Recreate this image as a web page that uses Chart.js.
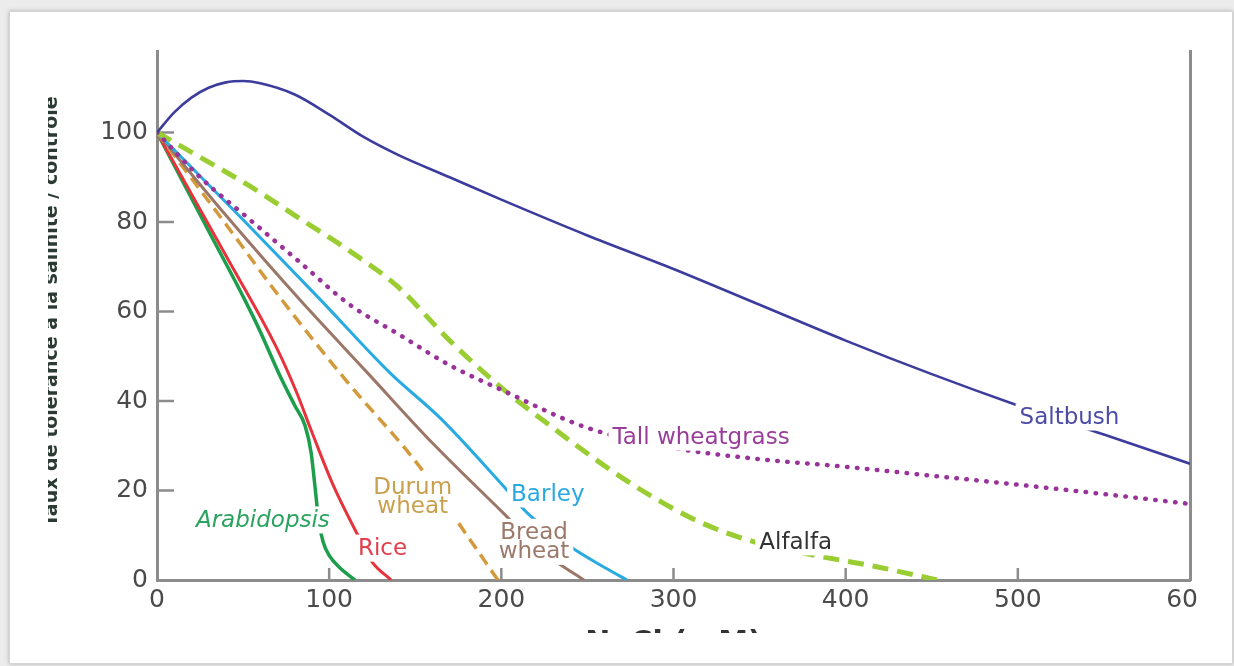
<!DOCTYPE html>
<html>
<head>
<meta charset="utf-8">
<script src="https://cdn.jsdelivr.net/npm/chart.js@4.4.1/dist/chart.umd.min.js"></script>
<style>
  html, body { margin: 0; padding: 0; }
  body { width: 1234px; height: 666px; background: #ececec; position: relative; overflow: hidden; }
  #card { position: absolute; left: 9px; top: 11px; width: 1222px; height: 651px; background: #fff;
          border: 1px solid #d4d4d4; box-shadow: 0 0 4px rgba(0,0,0,0.25); }
  #crop { position: absolute; left: 48px; top: 50px; width: 1150px; height: 583px; overflow: hidden; }
  #myChart { position: absolute; left: -48px; top: -50px; }
</style>
</head>
<body>
<div id="card"></div>
<div id="crop"><canvas id="myChart" width="1234" height="666"></canvas></div>
<script>
/*global Chart*/

// NaCl (mM) / tolerance (% of control)
var saltbushX = [0, 10, 20, 30, 40, 50, 60, 80, 100, 120, 140, 170, 200, 250, 300, 350, 400, 450, 500, 550, 600];
var saltbushY = [100, 104.5, 107.8, 110, 111.2, 111.5, 111, 108.5, 104, 99, 95, 90, 85, 77, 69.5, 61.5, 53.5, 46, 39, 32.5, 26];

var wheatgrassX = [0, 25, 54, 83, 112, 140, 170, 200, 250, 300, 350, 400, 450, 500, 550, 600];
var wheatgrassY = [100, 90, 80.5, 71, 61.5, 55, 48, 42.5, 34, 29.5, 27, 25.3, 23.3, 21.3, 19.2, 17];

var alfalfaX = [0, 25, 54, 80, 112, 140, 170, 200, 230, 260, 286, 315, 347, 381, 420, 453];
var alfalfaY = [100, 94.5, 88, 81.5, 73.5, 65.5, 53.5, 43, 34, 25.5, 19, 13, 8.5, 5.6, 2.8, 0];

var barleyX = [0, 50, 95, 135, 165, 200, 215, 240, 260, 273];
var barleyY = [100, 80.5, 62.6, 46.4, 36, 21.5, 15, 7.5, 2.8, 0];

var breadX = [0, 40, 83, 122, 160, 200, 225, 248];
var breadY = [100, 81.5, 62.6, 46.4, 30.6, 15.4, 6, 0];

var durumX = [0, 40, 72.5, 110, 152.6, 175, 198];
var durumY = [100, 79.5, 62.6, 44.5, 25.3, 12.8, 0];

var riceX = [0, 40, 70, 81, 90, 102, 116, 125, 136];
var riceY = [100, 72.5, 51.5, 42, 33, 21.5, 10.5, 4, 0];

var arabidopsisX = [0, 30, 51, 60, 71, 80, 86, 89.5, 92, 94, 96.5, 100, 106, 115];
var arabidopsisY = [100, 78, 62.6, 55.5, 46, 39, 34.5, 28.5, 20, 13, 8.5, 5.5, 2.8, 0];

var xTicks = [0, 100, 200, 300, 400, 500, 600];
var yTicks = [0, 20, 40, 60, 80, 100, 120];

var axisColor = "#8c8c8c";
var tickTextColor = "#4a4a4a";

function toPoints(xs, ys) {
    return xs.map(function(x, i){ return {x: x, y: ys[i]}; });
}

// curve names written on the plot (data coords of their centre)
var curveLabels = [
    {text: ["Saltbush"], x: 530, y: 36.2, color: "#4b4ba8"},
    {text: ["Tall wheatgrass"], x: 316, y: 31.7, color: "#9a3d9a"},
    {text: ["Alfalfa"], x: 371, y: 8.3, color: "#333333"},
    {text: ["Barley"], x: 227, y: 19, color: "#2aa9e0"},
    {text: ["Bread", "wheat"], x: 219, y: 8.3, color: "#9b7a6a"},
    {text: ["Durum", "wheat"], x: 148.5, y: 18.5, color: "#c9a04e"},
    {text: ["Rice"], x: 131, y: 6.9, color: "#e0404e"},
    {text: ["Arabidopsis"], x: 61.5, y: 13.2, color: "#2aa35e", italic: true}
];

var innerTicks = {
    id: "innerTicks",
    beforeDatasetsDraw: function(chart){
        var ctx = chart.ctx, xs = chart.scales.x, ys = chart.scales.y, area = chart.chartArea;
        ctx.save();
        ctx.strokeStyle = axisColor;
        ctx.lineWidth = 2.5;
        ctx.beginPath();
        xs.ticks.forEach(function(t){
            if (t.value <= 0 || t.value >= 600) return;
            var px = xs.getPixelForValue(t.value);
            ctx.moveTo(px, area.bottom);
            ctx.lineTo(px, area.bottom - 12);
        });
        ys.ticks.forEach(function(t){
            if (t.value <= 0) return;
            var py = ys.getPixelForValue(t.value);
            ctx.moveTo(area.left, py);
            ctx.lineTo(area.left + 17, py);
        });
        ctx.stroke();
        ctx.restore();
    }
};

var curveNames = {
    id: "curveNames",
    afterDatasetsDraw: function(chart){
        var ctx = chart.ctx, xs = chart.scales.x, ys = chart.scales.y;
        ctx.save();
        ctx.textAlign = "center";
        ctx.textBaseline = "middle";
        curveLabels.forEach(function(l){
            ctx.font = (l.italic ? "italic " : "") + "23px 'DejaVu Sans'";
            var cx = xs.getPixelForValue(l.x);
            var cy = ys.getPixelForValue(l.y);
            var lh = 19;
            var w = 0;
            l.text.forEach(function(s){ w = Math.max(w, ctx.measureText(s).width); });
            var h = lh * l.text.length;
            ctx.fillStyle = "#ffffff";
            ctx.fillRect(cx - w / 2 - 4, cy - h / 2 - 5, w + 8, h + 8);
            ctx.fillStyle = l.color;
            l.text.forEach(function(s, i){
                ctx.fillText(s, cx, cy - h / 2 + lh / 2 + i * lh);
            });
        });
        ctx.restore();
    }
};

Chart.defaults.font.family = "'DejaVu Sans', sans-serif";

var data = {
    datasets: [
        {label: "Saltbush", data: toPoints(saltbushX, saltbushY), borderColor: "#3c3c9c", borderWidth: 2.6},
        {label: "Tall wheatgrass", data: toPoints(wheatgrassX, wheatgrassY), borderColor: "#993399",
         borderWidth: 4.5, borderDash: [0.5, 9.5], borderCapStyle: "round"},
        {label: "Alfalfa", data: toPoints(alfalfaX, alfalfaY), borderColor: "#9acd32",
         borderWidth: 5, borderDash: [16, 9]},
        {label: "Barley", data: toPoints(barleyX, barleyY), borderColor: "#29abe2", borderWidth: 3},
        {label: "Bread wheat", data: toPoints(breadX, breadY), borderColor: "#9b7767", borderWidth: 3},
        {label: "Durum wheat", data: toPoints(durumX, durumY), borderColor: "#d29a3a",
         borderWidth: 3.5, borderDash: [12, 7]},
        {label: "Rice", data: toPoints(riceX, riceY), borderColor: "#e8333c", borderWidth: 3},
        {label: "Arabidopsis", data: toPoints(arabidopsisX, arabidopsisY), borderColor: "#1c9e4c", borderWidth: 3.5}
    ]
};
data.datasets.forEach(function(d){
    d.fill = false;
    d.pointRadius = 0;
    d.cubicInterpolationMode = "monotone";
});

var options = {
    responsive: false,
    animation: false,
    layout: {padding: {left: 0, right: 44, top: 43, bottom: 0}},
    plugins: {
        legend: {display: false},
        tooltip: {enabled: false}
    },
    scales: {
        x: {
            type: "linear",
            min: 0,
            max: 600,
            afterBuildTicks: function(s){ s.ticks = xTicks.map(function(v){ return {value: v}; }); },
            afterFit: function(s){ s.height = 86; },
            grid: {display: false, drawTicks: false},
            border: {display: true, color: axisColor, width: 3},
            ticks: {color: tickTextColor, font: {size: 25}, padding: 5, maxRotation: 0},
            title: {display: true, text: "NaCl (mM)", color: "#333", font: {size: 30, weight: "bold"},
                    padding: {top: 0, bottom: 4}}
        },
        y: {
            min: 0,
            max: 120,
            afterBuildTicks: function(s){ s.ticks = yTicks.map(function(v){ return {value: v}; }); },
            afterFit: function(s){ s.width = 157; },
            grid: {display: false, drawTicks: false},
            border: {display: true, color: axisColor, width: 3},
            ticks: {color: tickTextColor, font: {size: 25}, padding: 9},
            title: {display: true, text: "Taux de tolérance à la salinité / contrôle", color: "#2b3b33",
                    font: {size: 19, weight: "bold"}, padding: {top: 41, bottom: 0}}
        },
        y2: {
            position: "right",
            min: 0,
            max: 120,
            grid: {display: false, drawTicks: false},
            border: {display: true, color: axisColor, width: 3},
            ticks: {display: false}
        }
    }
};

var ctx = document.getElementById("myChart");
var chart = new Chart(ctx, {
    type: "line",
    data: data,
    options: options,
    plugins: [innerTicks, curveNames]
});
</script>
</body>
</html>
